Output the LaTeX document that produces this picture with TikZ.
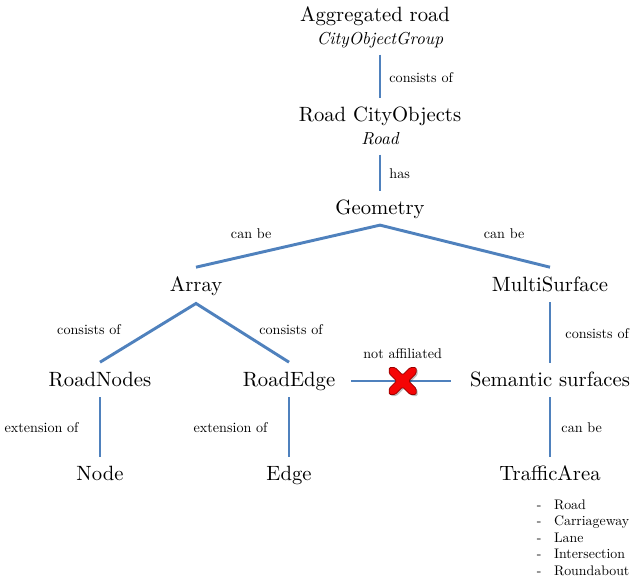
\documentclass[tikz,border=0pt]{standalone}
\usepackage{fontspec}
\setmainfont{lmroman10-regular.otf}[ItalicFont=lmroman10-italic.otf]
\definecolor{linkblue}{RGB}{79,129,189}
\definecolor{crossred}{RGB}{245,5,5}

\begin{document}
\begin{tikzpicture}[x=0.75pt, y=-0.75pt,
    mainlbl/.style={inner sep=0pt, font=\fontsize{15.5}{18}\selectfont, text height=10.8pt, text depth=3pt},
    typelbl/.style={inner sep=0pt, font=\fontsize{13}{15}\selectfont\itshape, text height=9pt, text depth=2.5pt},
    edgelbl/.style={inner sep=0pt, font=\fontsize{10.6}{13}\selectfont},
    conn/.style={draw=linkblue, line width=2.2pt, shorten <=5pt, shorten >=6.5pt}]

        \useasboundingbox (0,0) rectangle (634,580);

        %===========================
        % Objects
        %===========================

        \node[mainlbl] (aggr) at (375,16) {Aggregated road};
        \node[typelbl] (aggrType) at (380,40) {CityObjectGroup};
        \node[mainlbl] (rco) at (380,116) {Road CityObjects};
        \node[typelbl] (rcoType) at (380,140) {Road};
        \node[mainlbl] (geom) at (380,209) {Geometry};

        \node[mainlbl] (array) at (196,286) {Array};
        \node[mainlbl] (msurf) at (550,286) {MultiSurface};

        \node[mainlbl] (rdnodes) at (100,381) {RoadNodes};
        \node[mainlbl] (rdedge) at (289,381) {RoadEdge};
        \node[mainlbl] (semsurf) at (550,381) {Semantic surfaces};

        \node[mainlbl] (nd) at (100,475) {Node};
        \node[mainlbl] (ed) at (289,475) {Edge};
        \node[mainlbl] (traffic) at (550,475) {TrafficArea};

        \node[anchor=north west, inner sep=0pt, align=left, font=\fontsize{10.4}{12.4}\selectfont] (trafficTypes) at (536.5,499.5)
            {-\hspace{9.5pt}Road\\ -\hspace{9.5pt}Carriageway\\ -\hspace{9.5pt}Lane\\ -\hspace{9.5pt}Intersection\\ -\hspace{9.5pt}Roundabout};

        % fork points of the branches
        \coordinate (geomFork) at ([yshift=-5pt]geom.south);
        \coordinate (arrayFork) at ([yshift=-6pt]array.south);

        %===========================
        % Relations
        %===========================

        % Top
        \draw[conn] (aggrType.south) -- (rco.north) node[edgelbl, midway, right=6pt] (lblAggr) {consists of};
        \draw[conn] (rcoType.south) -- (geom.north) node[edgelbl, midway, right=6pt] (lblHas) {has};
        \draw[conn, shorten <=0pt, shorten >=0pt]
            ([yshift=7pt]array.north) -- node[edgelbl, pos=0.3, above=10.5pt] (lblArray) {can be}
            (geomFork) -- node[edgelbl, pos=0.73, above=12pt] (lblMsurf) {can be}
            ([yshift=7pt]msurf.north);

        % Left Side
        \draw[conn, shorten <=0pt, shorten >=0pt]
            ([yshift=7pt]rdnodes.north) -- node[edgelbl, pos=0.55, left=23pt] (lblNodes) {consists of}
            (arrayFork) -- node[edgelbl, pos=0.45, right=15pt] (lblEdge) {consists of}
            ([yshift=7pt]rdedge.north);
        \draw[conn] (rdnodes.south) -- (nd.north) node[edgelbl, midway, left=15pt] (lblNd) {extension of};
        \draw[conn] (rdedge.south) -- (ed.north) node[edgelbl, midway, left=15pt] (lblEd) {extension of};

        % Right Side
        \draw[conn] (msurf.south) -- (semsurf.north) node[edgelbl, midway, right=10.5pt] (lblSem) {consists of};
        \draw[conn] (semsurf.south) -- (traffic.north) node[edgelbl, midway, right=7.5pt] (lblTraffic) {can be};

        % Not affiliated
        \draw[conn, shorten <=12pt, shorten >=14pt] (rdedge.east) -- (semsurf.west)
            coordinate[midway] (cross) node[edgelbl, midway, above=15.5pt] (lblNotAff) {not affiliated};

        \begin{scope}[shift={(cross)}]
            \fill[black, opacity=0.25, shift={(1.5,1.5)}, rounded corners=1pt]
                (0,-6) -- (-7.5,-13.5) -- (-13.5,-13.5) -- (-13.5,-7.5) -- (-6,0) -- (-13.5,7.5) -- (-13.5,13.5) -- (-7.5,13.5)
                -- (0,6) -- (7.5,13.5) -- (13.5,13.5) -- (13.5,7.5) -- (6,0) -- (13.5,-7.5) -- (13.5,-13.5) -- (7.5,-13.5) -- cycle;
            \draw[fill=crossred, draw=red!60!black, line width=0.6pt, rounded corners=1pt]
                (0,-6) -- (-7.5,-13.5) -- (-13.5,-13.5) -- (-13.5,-7.5) -- (-6,0) -- (-13.5,7.5) -- (-13.5,13.5) -- (-7.5,13.5)
                -- (0,6) -- (7.5,13.5) -- (13.5,13.5) -- (13.5,7.5) -- (6,0) -- (13.5,-7.5) -- (13.5,-13.5) -- (7.5,-13.5) -- cycle;
        \end{scope}
\end{tikzpicture}
\end{document}
